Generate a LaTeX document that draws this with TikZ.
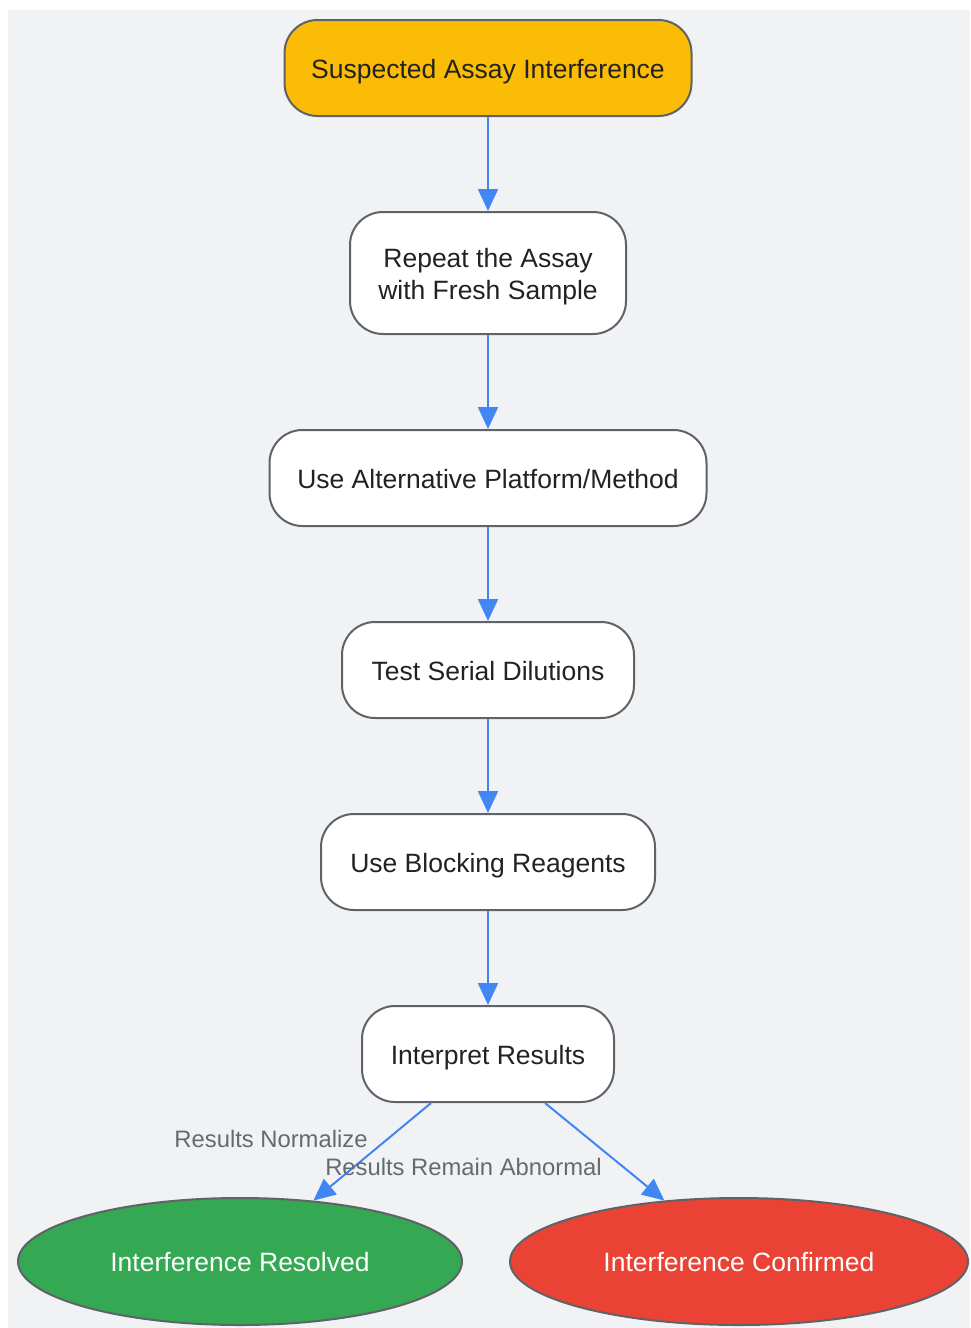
\documentclass[tikz,border=0pt]{standalone}
\usepackage{fontspec}
\setmainfont{Liberation Sans}
\usetikzlibrary{shapes.geometric,arrows.meta}
\definecolor{bg}{HTML}{F1F2F4}
\definecolor{bord}{HTML}{5F6368}
\definecolor{arrblue}{HTML}{4285F4}
\definecolor{startfill}{HTML}{FBBC05}
\definecolor{okfill}{HTML}{34A853}
\definecolor{badfill}{HTML}{EA4335}
\definecolor{txt}{HTML}{222222}
\definecolor{lbl}{HTML}{666A70}
\begin{document}
\begin{tikzpicture}[x=1pt,y=-1pt,
  boxbase/.style={draw=bord,line width=2pt,rounded corners=33pt,fill=white,inner sep=0pt,
    minimum height=96pt,text=txt,font=\fontsize{26.5}{32}\selectfont},
  box/.style={boxbase,text height=26pt,text depth=6pt},
  endnode/.style={draw=bord,line width=2pt,ellipse,inner sep=0pt,minimum height=127pt,
    text height=26pt,text depth=6pt,
    text=white,font=\fontsize{26.5}{32}\selectfont},
  arr/.style={draw=arrblue,line width=2pt,-{Triangle[length=22pt,width=20pt]}},
  elabel/.style={text=lbl,font=\fontsize{23.8}{28}\selectfont,inner sep=0pt}]
\useasboundingbox (0,0) rectangle (970,1328);
\fill[bg] (8,10) rectangle (970,1328);
\node[box,fill=startfill,minimum width=407pt] (n1) at (488,68) {Suspected Assay Interference};
\node[boxbase,align=center,minimum width=276pt,minimum height=122pt] (n2) at (488,273) {\rule{0pt}{27.4pt}Repeat the Assay\\with Fresh Sample};
\node[box,minimum width=437pt] (n3) at (488,478) {Use Alternative Platform/Method};
\node[box,minimum width=292pt] (n4) at (488,670) {Test Serial Dilutions};
\node[box,minimum width=334pt] (n5) at (488,862) {Use Blocking Reagents};
\node[box,minimum width=252pt] (n6) at (488,1054) {Interpret Results};
\node[endnode,fill=okfill,minimum width=444pt] (n7) at (240,1261.5) {Interference Resolved};
\node[endnode,fill=badfill,minimum width=458pt] (n8) at (739,1261.5) {Interference Confirmed};
\draw[arr] (n1) -- (n2);
\draw[arr] (n2) -- (n3);
\draw[arr] (n3) -- (n4);
\draw[arr] (n4) -- (n5);
\draw[arr] (n5) -- (n6);
\coordinate (s7) at (431,1103);
\coordinate (s8) at (545,1103);
\draw[arr] (s7) -- (n7);
\draw[arr] (s8) -- (n8);
\node[elabel] (l1) at (271,1139) {Results Normalize};
\node[elabel] (l2) at (463.5,1167) {Results Remain Abnormal};
\end{tikzpicture}
\end{document}
